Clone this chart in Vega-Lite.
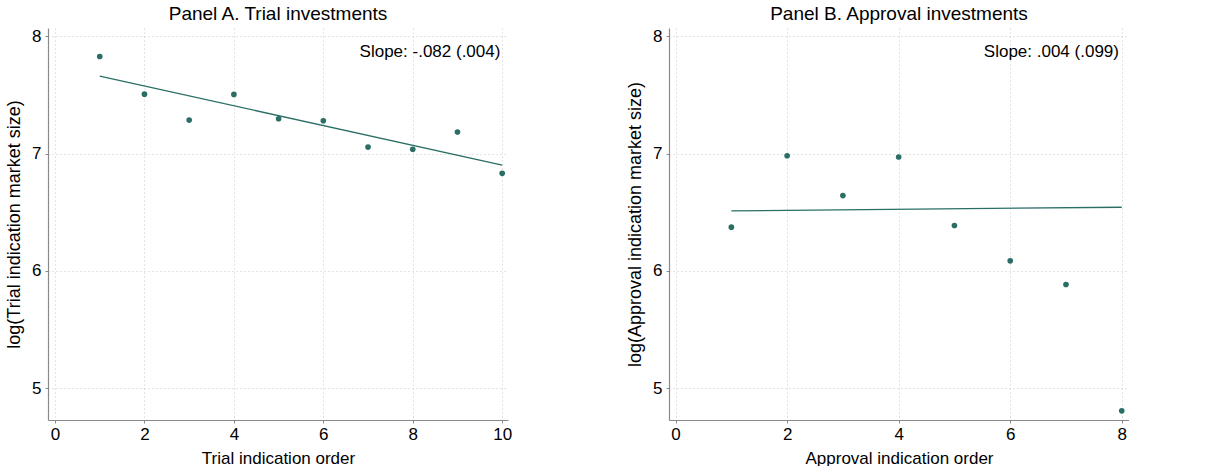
{
  "$schema": "https://vega.github.io/schema/vega-lite/v6.json",
  "padding": {"left": 5, "top": 5, "right": 0, "bottom": 0},
  "background": "white",
  "datasets": {
    "trial": [
      {"order": 1, "logsize": 7.827},
      {"order": 2, "logsize": 7.506},
      {"order": 3, "logsize": 7.285},
      {"order": 4, "logsize": 7.504},
      {"order": 5, "logsize": 7.296},
      {"order": 6, "logsize": 7.279},
      {"order": 7, "logsize": 7.055},
      {"order": 8, "logsize": 7.036},
      {"order": 9, "logsize": 7.183},
      {"order": 10, "logsize": 6.831}
    ],
    "trialFit": [
      {"order": 1, "fit": 7.66},
      {"order": 10, "fit": 6.90}
    ],
    "approval": [
      {"order": 1, "logsize": 6.372},
      {"order": 2, "logsize": 6.981},
      {"order": 3, "logsize": 6.641},
      {"order": 4, "logsize": 6.970},
      {"order": 5, "logsize": 6.386},
      {"order": 6, "logsize": 6.085},
      {"order": 7, "logsize": 5.883},
      {"order": 8, "logsize": 4.806}
    ],
    "approvalFit": [
      {"order": 1, "fit": 6.511},
      {"order": 8, "fit": 6.542}
    ],
    "trialNote": [{"label": "Slope: -.082 (.004)"}],
    "approvalNote": [{"label": "Slope: .004 (.099)"}]
  },
  "config": {
    "font": "Liberation Sans",
    "view": {"stroke": null},
    "axis": {
      "domainColor": "#8a8a8a",
      "domainWidth": 1.2,
      "tickColor": "#8a8a8a",
      "tickSize": 3,
      "gridColor": "#c8c8c8",
      "gridDash": [1, 3],
      "gridWidth": 1,
      "labelFont": "Liberation Sans",
      "labelFontSize": 17,
      "labelColor": "#000000",
      "format": "d",
      "titleFont": "Liberation Sans",
      "titleFontSize": 17,
      "titleFontWeight": "normal",
      "titleColor": "#000000"
    },
    "axisY": {"titleFontSize": 18},
    "title": {"font": "Liberation Sans", "fontSize": 19, "fontWeight": "normal", "color": "#000000", "offset": 3}
  },
  "spacing": 114,
  "hconcat": [
    {
      "width": 460,
      "height": 392,
      "title": "Panel A. Trial investments",
      "layer": [
        {
          "data": {"name": "trial"},
          "mark": {"type": "circle", "color": "#2a6e66", "opacity": 1, "size": 32},
          "encoding": {
            "x": {"field": "order", "type": "quantitative", "scale": {"domain": [-0.157, 10.13], "nice": false, "zero": false},
              "axis": {"values": [0, 2, 4, 6, 8, 10], "title": "Trial indication order", "labelPadding": 3, "titlePadding": 8}},
            "y": {"field": "logsize", "type": "quantitative", "scale": {"domain": [4.728, 8.07], "nice": false, "zero": false},
              "axis": {"values": [5, 6, 7, 8], "title": "log(Trial indication market size)", "labelPadding": 4, "titlePadding": 8}}
          }
        },
        {
          "data": {"name": "trialFit"},
          "mark": {"type": "line", "color": "#2a6e66", "strokeWidth": 1.3},
          "encoding": {
            "x": {"field": "order", "type": "quantitative"},
            "y": {"field": "fit", "type": "quantitative"}
          }
        },
        {
          "data": {"name": "trialNote"},
          "mark": {"type": "text", "align": "right", "baseline": "middle", "fontSize": 17, "color": "#000000"},
          "encoding": {
            "x": {"datum": 9.96},
            "y": {"datum": 7.865},
            "text": {"field": "label"}
          }
        }
      ]
    },
    {
      "width": 460,
      "height": 392,
      "title": "Panel B. Approval investments",
      "layer": [
        {
          "data": {"name": "approval"},
          "mark": {"type": "circle", "color": "#2a6e66", "opacity": 1, "size": 32},
          "encoding": {
            "x": {"field": "order", "type": "quantitative", "scale": {"domain": [-0.118, 8.13], "nice": false, "zero": false},
              "axis": {"values": [0, 2, 4, 6, 8], "title": "Approval indication order", "labelPadding": 3, "titlePadding": 8}},
            "y": {"field": "logsize", "type": "quantitative", "scale": {"domain": [4.728, 8.07], "nice": false, "zero": false},
              "axis": {"values": [5, 6, 7, 8], "title": "log(Approval indication market size)", "labelPadding": 4, "titlePadding": 8}}
          }
        },
        {
          "data": {"name": "approvalFit"},
          "mark": {"type": "line", "color": "#2a6e66", "strokeWidth": 1.3},
          "encoding": {
            "x": {"field": "order", "type": "quantitative"},
            "y": {"field": "fit", "type": "quantitative"}
          }
        },
        {
          "data": {"name": "approvalNote"},
          "mark": {"type": "text", "align": "right", "baseline": "middle", "fontSize": 17, "color": "#000000"},
          "encoding": {
            "x": {"datum": 7.95},
            "y": {"datum": 7.865},
            "text": {"field": "label"}
          }
        }
      ]
    }
  ]
}
